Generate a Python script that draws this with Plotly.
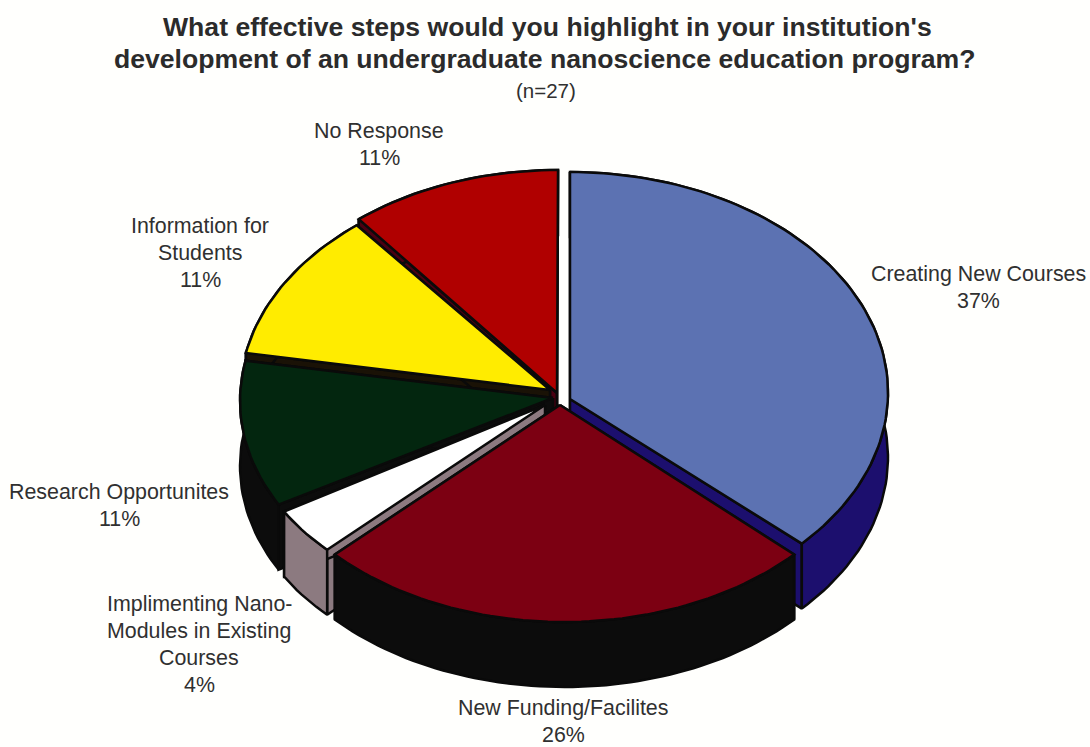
import math
import plotly.graph_objects as go

# ---- data ----
categories = [
    "Creating New Courses",
    "New Funding/Facilites",
    "Implimenting Nano-Modules in Existing Courses",
    "Research Opportunites",
    "Information for Students",
    "No Response",
]
percent_values = [37, 26, 4, 11, 11, 11]
label_lines = [
    ["Creating New Courses"],
    ["New Funding/Facilites"],
    ["Implimenting Nano-", "Modules in Existing", "Courses"],
    ["Research Opportunites"],
    ["Information for", "Students"],
    ["No Response"],
]
title_lines = [
    "What effective steps would you highlight in your institution's",
    "development of an undergraduate nanoscience education program?",
]
subtitle = "(n=27)"

# ---- style / layout ----
top_colors = ["#5c72b2", "#7c0012", "#ffffff", "#03260f", "#ffec00", "#b00000"]
side_colors = ["#1c0f6e", "#0c0c0c", "#8c7a80", "#0c0c0c", "#1a1206", "#4a0012"]
# apex x, apex y, ellipse cx, cy, a, b for the exploded tilted slices
geometry = [
    (570, 399, 570, 392.6, 318, 220.6),
    (560, 405, 564.5, 408, 315, 214),
    (545, 405, 540, 421, 292, 188),
    (553, 398, 552, 401, 312, 215),
    (550, 390, 561.7, 394, 321.5, 219),
    (557, 393, 558, 384, 312.6, 214),
]
depth = 65
paint_order = [5, 4, 0, 3, 2, 1]
label_centres = [(978, 274), (563, 708), (199, 604), (119, 492), (200, 226), (379, 131)]
line_height = 27
LABEL_FONT = dict(family="Liberation Sans, Arial, sans-serif", size=21.4, color="#303030")
TITLE_FONT = dict(family="Liberation Sans, Arial, sans-serif", size=26.6, color="#2b2b2b")

total = sum(percent_values)
bounds = [0]
for v in percent_values:
    bounds.append(bounds[-1] + v / total * 360)

fig = go.Figure()


def poly(xs, ys, fill, line="#0a0a0a", w=2.5):
    fig.add_trace(go.Scatter(
        x=xs + xs[:1], y=ys + ys[:1], mode="lines", fill="toself", fillcolor=fill,
        line=dict(color=line, width=w), hoverinfo="skip", showlegend=False))


for i in paint_order:
    px, py, cx, cy, a, b = geometry[i]
    t0, t1 = bounds[i], bounds[i + 1]
    n = max(2, int((t1 - t0) / 1.5))
    ts = [math.radians(t0 + (t1 - t0) * k / n) for k in range(n + 1)]
    ax = [cx + a * math.sin(t) for t in ts]
    ay = [cy - b * math.cos(t) for t in ts]
    # cut faces
    poly([px, ax[0], ax[0], px], [py, ay[0], ay[0] + depth, py + depth], side_colors[i])
    poly([px, ax[-1], ax[-1], px], [py, ay[-1], ay[-1] + depth, py + depth], side_colors[i])
    # outer wall
    poly(ax + ax[::-1], ay + [y + depth for y in ay[::-1]], side_colors[i])
    # top face
    poly([px] + ax, [py] + ay, top_colors[i])

annotations = []


def put(text, x, y, font):
    annotations.append(dict(x=x, y=y, text=text, showarrow=False, xanchor="center",
                            yanchor="middle", font=font, xref="x", yref="y"))


put("<b>" + title_lines[0] + "</b>", 547, 27, TITLE_FONT)
put("<b>" + title_lines[1] + "</b>", 545, 59, TITLE_FONT)
put(subtitle, 546, 90, dict(LABEL_FONT, size=20.5))

for lines, v, (x, y) in zip(label_lines, percent_values, label_centres):
    for k, line in enumerate(lines + [f"{v}%"]):
        put(line, x, y + k * line_height, LABEL_FONT)

fig.update_layout(
    width=1090, height=747, margin=dict(l=0, r=0, t=0, b=0),
    paper_bgcolor="#fffffd", plot_bgcolor="#fffffd", showlegend=False,
    xaxis=dict(range=[0, 1090], visible=False, fixedrange=True),
    yaxis=dict(range=[747, 0], visible=False, fixedrange=True),
    annotations=annotations,
)
fig.write_html("out.html", post_script="document.body.style.margin='0';",
               config={"displayModeBar": False})
